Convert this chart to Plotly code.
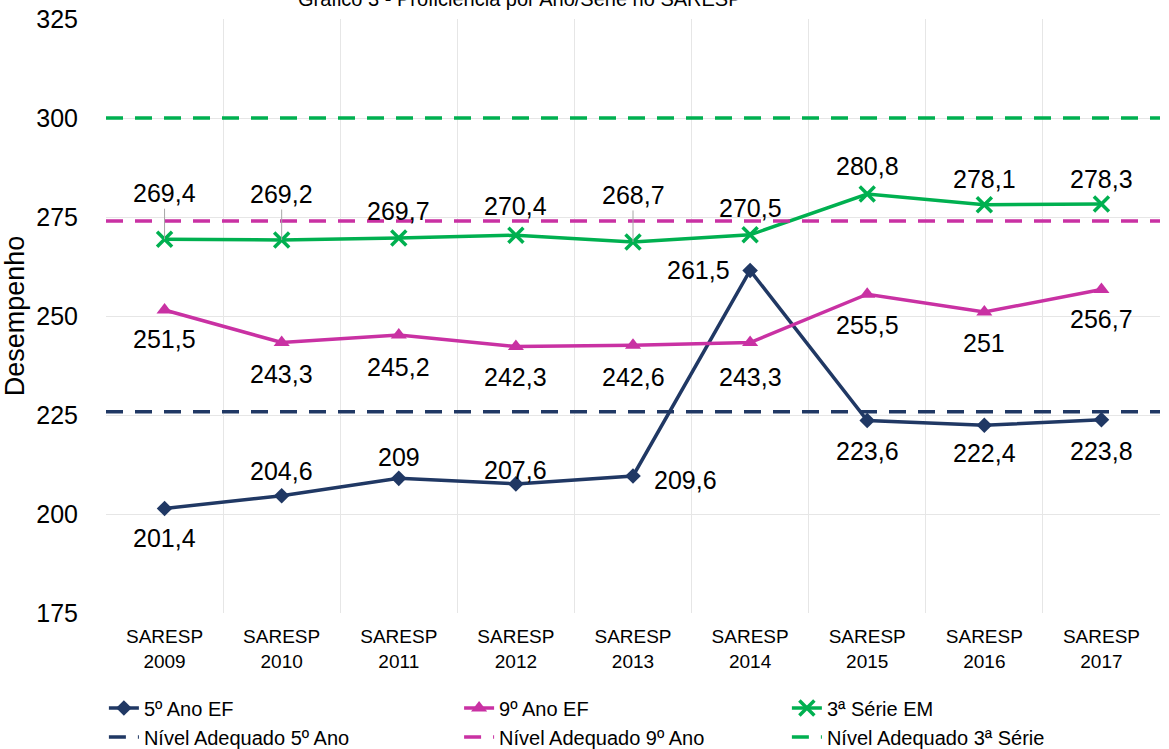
import plotly.graph_objects as go

categories = ["SARESP<br>2009", "SARESP<br>2010", "SARESP<br>2011", "SARESP<br>2012", "SARESP<br>2013",
              "SARESP<br>2014", "SARESP<br>2015", "SARESP<br>2016", "SARESP<br>2017"]
ano5 = [201.4, 204.6, 209, 207.6, 209.6, 261.5, 223.6, 222.4, 223.8]
ano9 = [251.5, 243.3, 245.2, 242.3, 242.6, 243.3, 255.5, 251, 256.7]
serie3 = [269.4, 269.2, 269.7, 270.4, 268.7, 270.5, 280.8, 278.1, 278.3]
nivel5 = [225.8] * 9
nivel9 = [274.0] * 9
nivel3 = [300.0] * 9

y_ticks = [175, 200, 225, 250, 275, 300, 325]

NAVY = "#203864"
MAG = "#C931A3"
GREEN = "#00B050"
FONT = "Liberation Sans, Arial, sans-serif"

xs = list(range(len(categories)))

def fmt(v):
    s = ("%.1f" % v).rstrip("0").rstrip(".")
    return s.replace(".", ",")

fig = go.Figure()

# reference lines across full width on hidden axis
for vals, nm, col, lg in [(nivel5, "Nível Adequado 5º Ano", NAVY, "legend"),
                          (nivel9, "Nível Adequado 9º Ano", MAG, "legend2"),
                          (nivel3, "Nível Adequado 3ª Série", GREEN, "legend3")]:
    fig.add_trace(go.Scatter(x=xs, y=vals, name=nm, mode="lines", xaxis="x2",
                             line=dict(color=col, width=3.5, dash="17px,12px"),
                             legend=lg, legendrank=2))

fig.add_trace(go.Scatter(x=xs, y=ano5, name="5º Ano EF", mode="lines+markers",
                         line=dict(color=NAVY, width=3.5),
                         marker=dict(symbol="diamond", size=12, color=NAVY),
                         legend="legend", legendrank=1))
fig.add_trace(go.Scatter(x=xs, y=ano9, name="9º Ano EF", mode="lines+markers",
                         line=dict(color=MAG, width=3.5),
                         marker=dict(symbol="triangle-up", size=14, color=MAG),
                         legend="legend2", legendrank=1))
fig.add_trace(go.Scatter(x=xs, y=serie3, name="3ª Série EM", mode="lines+markers",
                         line=dict(color=GREEN, width=3.5),
                         marker=dict(symbol="x-thin", size=15, color=GREEN,
                                     line=dict(color=GREEN, width=3.5)),
                         legend="legend3", legendrank=1))

# data labels
LBL = dict(family=FONT, size=25, color="#000000")
ann = []
shifts5 = [(0, -30), (0, 25), (0, 21), (0, 14), (52, -4), (-52, 0), (0, -30), (0, -28), (0, -31)]
shifts9 = [(0, -29), (0, -31), (0, -32), (0, -31), (0, -32), (0, -34), (0, -31), (0, -31), (0, -30)]
shifts3 = [(0, 46), (0, 46), (0, 27), (0, 29), (0, 47), (0, 27), (0, 28), (0, 26), (0, 25)]
leader3 = [True, True, False, False, True, False, False, False, False]

for vals, shifts in [(ano5, shifts5), (ano9, shifts9)]:
    for i, v in enumerate(vals):
        ann.append(dict(x=xs[i], y=v, text=fmt(v), showarrow=False,
                        xshift=shifts[i][0], yshift=shifts[i][1], font=LBL))
for i, v in enumerate(serie3):
    if leader3[i]:
        ann.append(dict(x=xs[i], y=v, text=fmt(v), showarrow=True, arrowhead=0,
                        arrowwidth=1, arrowcolor="#A6A6A6", ax=0, ay=-shifts3[i][1],
                        standoff=0, startstandoff=0, yanchor="middle", font=LBL))
    else:
        ann.append(dict(x=xs[i], y=v, text=fmt(v), showarrow=False,
                        xshift=shifts3[i][0], yshift=shifts3[i][1], font=LBL))

# cut-off title at top
ann.append(dict(xref="paper", yref="paper", x=0.393, y=1.0114, yanchor="bottom",
                text="Gráfico 3 - Proficiência por Ano/Série no SARESP", showarrow=False,
                font=dict(family=FONT, size=20, color="#000000")))

LEG = dict(family=FONT, size=20, color="#000000")
LY = -0.127
fig.update_layout(
    width=1169, height=749,
    margin=dict(l=106, r=9, t=19, b=136, autoexpand=False),
    paper_bgcolor="white", plot_bgcolor="white",
    font=dict(family=FONT, color="#000000"),
    annotations=ann,
    xaxis=dict(range=[-0.5, 8.5], tickmode="array", tickvals=xs, ticktext=categories,
               showgrid=False, zeroline=False, showline=False, automargin=False,
               ticks="outside", ticklen=6, tickcolor="rgba(0,0,0,0)",
               tickfont=dict(family=FONT, size=19, color="#000000"),
               minor=dict(tick0=-0.5, dtick=1, showgrid=True, gridcolor="#E6E6E6", gridwidth=1, ticks="")),
    xaxis2=dict(range=[0, 8], overlaying="x", visible=False, showgrid=False, zeroline=False),
    yaxis=dict(range=[175, 325], tickmode="array", tickvals=y_ticks, automargin=False,
               showgrid=True, gridcolor="#E6E6E6", gridwidth=1, zeroline=False, showline=False,
               ticks="outside", ticklen=22, tickcolor="rgba(0,0,0,0)",
               tickfont=dict(family=FONT, size=25, color="#000000"),
               title=dict(text="Desempenho", font=dict(family=FONT, size=27, color="#000000"),
                          standoff=8)),
    showlegend=True,
    legend=dict(x=-0.002, y=LY, xanchor="left", yanchor="top", orientation="v",
                font=LEG, tracegroupgap=0, itemwidth=30, bgcolor="rgba(0,0,0,0)"),
    legend2=dict(x=0.335, y=LY, xanchor="left", yanchor="top", orientation="v",
                 font=LEG, tracegroupgap=0, itemwidth=30, bgcolor="rgba(0,0,0,0)"),
    legend3=dict(x=0.646, y=LY, xanchor="left", yanchor="top", orientation="v",
                 font=LEG, tracegroupgap=0, itemwidth=30, bgcolor="rgba(0,0,0,0)"),
)

fig.write_html("out.html", config={"displayModeBar": False},
               post_script="document.body.style.margin='0';")
